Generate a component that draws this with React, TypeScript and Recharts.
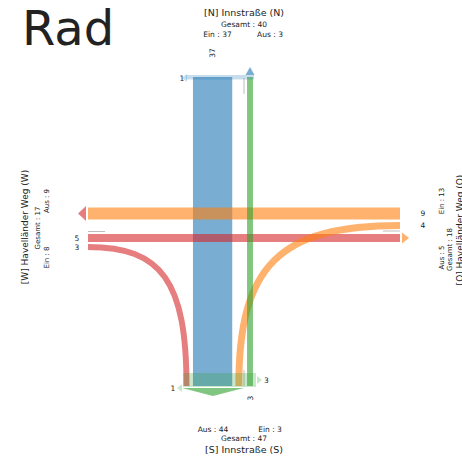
import React from 'react';
import { ComposedChart, XAxis, YAxis, Line, Scatter } from 'recharts';

// counts per approach
const approachIds = ['N', 'W', 'O', 'S'];
const approachNames = ['[N] Innstraße (N)', '[W] Havelländer Weg (W)', '[O] Havelländer Weg (O)', '[S] Innstraße (S)'];
const inboundCounts = [37, 8, 13, 3];
const outboundCounts = [3, 9, 5, 44];

// flows through the junction
const flowFrom = ['N', 'S', 'W', 'W', 'O', 'O'];
const flowTo = ['S', 'N', 'O', 'S', 'W', 'S'];
const flowCounts = [37, 3, 5, 3, 9, 4];

// small side markers
const markApproach = ['N', 'S', 'S'];
const markCounts = [1, 1, 3];

const title = 'Rad';

const WIDTH = 462;
const HEIGHT = 461;
const FONT = 'DejaVu Sans, Verdana, sans-serif';
const COLORS: Record<string, string> = { N: '#1f77b4', W: '#d62728', O: '#ff7f0e', S: '#2ca02c' };

// junction box and lane layout (chart units = px)
const BOX = { left: 88, right: 400, top: 77, bottom: 386 };
const laneWidth = (v: number) => 3 + 0.98 * v;
const flowStartLane = [212.6, 250, 238, 247, 213.5, 225.5];
const flowEndLane = [212.6, 250, 238, 186.5, 213.5, 238.8];
const drawOrder = [0, 2, 4, 3, 5, 1];

const isVertical = (a: string) => a === 'N' || a === 'S';
const edgePoint = (a: string, lane: number) => {
  if (a === 'N') return { x: lane, y: BOX.top };
  if (a === 'S') return { x: lane, y: BOX.bottom };
  if (a === 'W') return { x: BOX.left, y: lane };
  return { x: BOX.right, y: lane };
};

const flowPath = (i: number) => {
  const from = flowFrom[i];
  const to = flowTo[i];
  const start = edgePoint(from, flowStartLane[i]);
  const end = edgePoint(to, flowEndLane[i]);
  if (isVertical(from) === isVertical(to)) return [start, end];
  const corner = isVertical(from)
    ? { x: flowStartLane[i], y: flowEndLane[i] }
    : { x: flowEndLane[i], y: flowStartLane[i] };
  return [start, corner, end];
};

// start -> end as one cubic, handles pulled towards the corner point
const cornerCurve = (context: any) => {
  let pts: number[][] = [];
  return {
    areaStart() {},
    areaEnd() {},
    lineStart() { pts = []; },
    point(x: number, y: number) { pts.push([x, y]); },
    lineEnd() {
      if (pts.length < 3) return;
      const [a, c, b] = pts;
      const k = 0.75;
      context.moveTo(a[0], a[1]);
      context.bezierCurveTo(
        a[0] + (c[0] - a[0]) * k, a[1] + (c[1] - a[1]) * k,
        b[0] + (c[0] - b[0]) * k, b[1] + (c[1] - b[1]) * k,
        b[0], b[1]
      );
    },
  };
};

// label offsets from the box edge per approach
const flowLabelGap: Record<string, number> = { N: 24, S: 12, W: 11, O: 23 };

const flowLabels = flowCounts.map((v, i) => {
  const a = flowFrom[i];
  const p = edgePoint(a, flowStartLane[i]);
  const g = flowLabelGap[a];
  if (a === 'N') return { x: p.x, y: p.y - g, text: String(v), size: 7.5, angle: -90 };
  if (a === 'S') return { x: p.x, y: p.y + g, text: String(v), size: 7.5, angle: -90 };
  if (a === 'W') return { x: p.x - g, y: p.y, text: String(v), size: 7.5 };
  return { x: p.x + g, y: p.y, text: String(v), size: 7.5 };
});

const idx = (a: string) => approachIds.indexOf(a);
const headerLabels = [
  // north
  { x: 244, y: 12, text: approachNames[idx('N')], size: 9.5 },
  { x: 244, y: 24, text: `Gesamt : ${inboundCounts[idx('N')] + outboundCounts[idx('N')]}`, size: 7.5 },
  { x: 217.5, y: 34, text: `Ein : ${inboundCounts[idx('N')]}`, size: 7.5 },
  { x: 270, y: 34, text: `Aus : ${outboundCounts[idx('N')]}`, size: 7.5 },
  // south
  { x: 213, y: 429, text: `Aus : ${outboundCounts[idx('S')]}`, size: 7.5 },
  { x: 270, y: 429, text: `Ein : ${inboundCounts[idx('S')]}`, size: 7.5 },
  { x: 244, y: 438.5, text: `Gesamt : ${inboundCounts[idx('S')] + outboundCounts[idx('S')]}`, size: 7.5 },
  { x: 244, y: 449, text: approachNames[idx('S')], size: 9.5 },
  // west
  { x: 25, y: 227, text: approachNames[idx('W')], size: 9, angle: -90 },
  { x: 37.5, y: 228, text: `Gesamt : ${inboundCounts[idx('W')] + outboundCounts[idx('W')]}`, size: 7, angle: -90 },
  { x: 46.5, y: 201, text: `Aus : ${outboundCounts[idx('W')]}`, size: 7, angle: -90 },
  { x: 46.5, y: 257.5, text: `Ein : ${inboundCounts[idx('W')]}`, size: 7, angle: -90 },
  // east
  { x: 459.5, y: 230, text: approachNames[idx('O')], size: 9, angle: -90 },
  { x: 450, y: 249.5, text: `Gesamt : ${inboundCounts[idx('O')] + outboundCounts[idx('O')]}`, size: 7, angle: -90 },
  { x: 441.7, y: 201, text: `Ein : ${inboundCounts[idx('O')]}`, size: 7, angle: -90 },
  { x: 441.7, y: 257.5, text: `Aus : ${outboundCounts[idx('O')]}`, size: 7, angle: -90 },
];

const markPos = [
  { x: 182, y: 78, tx: 187, dir: 'left' },
  { x: 173, y: 388, tx: 182, dir: 'left' },
  { x: 266.5, y: 380, tx: 257, dir: 'right' },
];
const markLabels = markCounts.map((v, i) => ({ x: markPos[i].x, y: markPos[i].y, text: String(v), size: 7.5 }));
const markArrows = markCounts.map((_, i) => ({
  x: markPos[i].tx, y: markPos[i].y, dir: markPos[i].dir, half: 4, depth: 5,
  color: COLORS[markApproach[i]], opacity: 0.25,
}));

// exit arrows span the outbound lanes of each approach
const exitArrows = approachIds.map((a) => {
  const ids = flowTo.map((t, i) => (t === a ? i : -1)).filter((i) => i >= 0);
  const lo = Math.min(...ids.map((i) => flowEndLane[i] - laneWidth(flowCounts[i]) / 2)) - 1.5;
  const hi = Math.max(...ids.map((i) => flowEndLane[i] + laneWidth(flowCounts[i]) / 2)) + 1.5;
  const mid = (lo + hi) / 2;
  const half = (hi - lo) / 2;
  const base = { color: COLORS[a], opacity: 0.6, half, depth: 8 };
  if (a === 'N') return { ...base, x: mid, y: BOX.top - 2, dir: 'up' };
  if (a === 'S') return { ...base, x: mid, y: BOX.bottom + 2, dir: 'down' };
  if (a === 'W') return { ...base, x: BOX.left - 2, y: mid, dir: 'left' };
  return { ...base, x: BOX.right + 2, y: mid, dir: 'right', depth: 7 };
});

// light approach bands and thin empty lanes
const bands = [
  { pts: [{ x: 186, y: 77.3 }, { x: 254, y: 77.3 }], width: 4.5, color: COLORS.N, opacity: 0.25 },
  { pts: [{ x: 183, y: 380 }, { x: 256, y: 380 }], width: 14, color: COLORS.S, opacity: 0.25 },
];
const stubs = [
  [{ x: 244, y: 78 }, { x: 244, y: 94 }],
  [{ x: 88, y: 231.5 }, { x: 105, y: 231.5 }],
  [{ x: 383, y: 231 }, { x: 400, y: 231 }],
  [{ x: 244, y: 370 }, { x: 244, y: 386 }],
];

const TextShape = (props: any) => {
  const { cx, cy, payload } = props;
  const p = payload || {};
  return (
    <text
      x={cx}
      y={cy}
      transform={p.angle ? `rotate(${p.angle} ${cx} ${cy})` : undefined}
      textAnchor={p.anchor || 'middle'}
      dominantBaseline={p.baseline || 'central'}
      fontSize={p.size}
      fontFamily={FONT}
      fill="#222"
    >
      {p.text}
    </text>
  );
};

const ArrowShape = (props: any) => {
  const { cx, cy, payload } = props;
  const { dir, half, depth, color, opacity } = payload;
  let pts = '';
  if (dir === 'up') pts = `${cx - half},${cy} ${cx + half},${cy} ${cx},${cy - depth}`;
  if (dir === 'down') pts = `${cx - half},${cy} ${cx + half},${cy} ${cx},${cy + depth}`;
  if (dir === 'left') pts = `${cx},${cy - half} ${cx},${cy + half} ${cx - depth},${cy}`;
  if (dir === 'right') pts = `${cx},${cy - half} ${cx},${cy + half} ${cx + depth},${cy}`;
  return <polygon points={pts} fill={color} fillOpacity={opacity} />;
};

const allLabels = [
  { x: 22, y: 45, text: title, size: 48, anchor: 'start', baseline: 'auto' },
  ...headerLabels,
  ...flowLabels,
  ...markLabels,
];

export default function App() {
  return (
    <div style={{ position: 'absolute', left: 0, top: 0, background: '#fff' }}>
      <ComposedChart width={WIDTH} height={HEIGHT} margin={{ top: 0, right: 0, bottom: 0, left: 0 }}>
        <XAxis type="number" dataKey="x" domain={[0, WIDTH]} allowDataOverflow hide />
        <YAxis type="number" dataKey="y" domain={[0, HEIGHT]} allowDataOverflow reversed hide />
        {drawOrder.map((i) => {
          const pts = flowPath(i);
          return (
            <Line
              key={`flow-${i}`}
              data={pts}
              dataKey="y"
              type={pts.length > 2 ? (cornerCurve as any) : 'linear'}
              stroke={COLORS[flowFrom[i]]}
              strokeOpacity={0.6}
              strokeWidth={laneWidth(flowCounts[i])}
              dot={false}
              activeDot={false}
              legendType="none"
              isAnimationActive={false}
            />
          );
        })}
        {stubs.map((s, i) => (
          <Line key={`stub-${i}`} data={s} dataKey="y" type="linear" stroke="#bdbdbd" strokeWidth={1}
            dot={false} activeDot={false} legendType="none" isAnimationActive={false} />
        ))}
        {bands.map((b, i) => (
          <Line key={`band-${i}`} data={b.pts} dataKey="y" type="linear" stroke={b.color} strokeOpacity={b.opacity}
            strokeWidth={b.width} dot={false} activeDot={false} legendType="none" isAnimationActive={false} />
        ))}
        <Scatter data={[...exitArrows, ...markArrows]} shape={ArrowShape} isAnimationActive={false} legendType="none" />
        <Scatter data={allLabels} shape={TextShape} isAnimationActive={false} legendType="none" />
      </ComposedChart>
    </div>
  );
}
